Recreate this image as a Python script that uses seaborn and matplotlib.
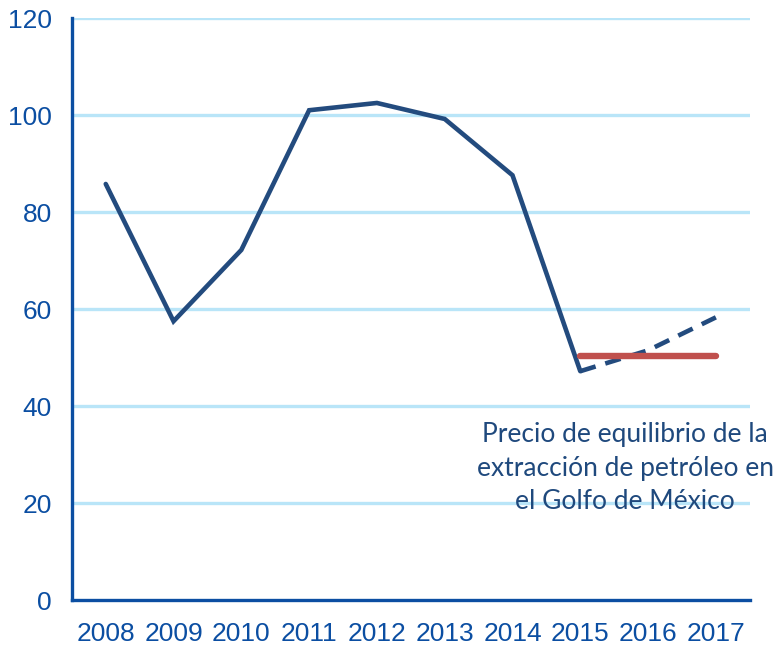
import numpy as np
import pandas as pd
import seaborn as sns
import matplotlib.pyplot as plt

# precio del petroleo (USD/barril), lectura aproximada del grafico
years = ['2008', '2009', '2010', '2011', '2012', '2013', '2014', '2015', '2016', '2017']
price = [85.8, 57.5, 72.2, 101.0, 102.5, 99.2, 87.6, 47.2]
forecast_years = ['2015', '2016', '2017']
forecast = [47.2, 51.5, 58.3]
breakeven_years = ['2015', '2017']
breakeven = [50.4, 50.4]
yticks = [0, 20, 40, 60, 80, 100, 120]
note = 'Precio de equilibrio de la\nextracción de petróleo en\nel Golfo de México'

pos = {y: i for i, y in enumerate(years)}
hist = pd.DataFrame({'x': [pos[y] for y in years[:len(price)]], 'y': price})
fc = pd.DataFrame({'x': [pos[y] for y in forecast_years], 'y': forecast})
be = pd.DataFrame({'x': [pos[y] for y in breakeven_years], 'y': breakeven})

sns.set_style('white')
plt.rcParams['font.family'] = ['Liberation Sans', 'DejaVu Sans']

axis_blue = '#0b4ea2'
line_blue = '#234b7e'
grid_blue = '#b9e5f8'

fig = plt.figure(figsize=(7.81, 6.46), dpi=100)
ax = fig.add_axes([0.092, 0.071, 0.868, 0.901])

for g in yticks[1:]:
    ax.axhline(g, color=grid_blue, lw=2.4, zorder=0)

sns.lineplot(data=hist, x='x', y='y', ax=ax, color=line_blue, lw=3.3,
             solid_joinstyle='miter', zorder=3)
sns.lineplot(data=fc, x='x', y='y', ax=ax, color=line_blue, lw=3.3,
             dashes=False, zorder=3).lines[-1].set_dashes([3.5, 2.2])
sns.lineplot(data=be, x='x', y='y', ax=ax, color='#c0504d', lw=4.6,
             solid_capstyle='round', zorder=4)

ax.text(7.66, 27.2, note, ha='center', va='center', multialignment='center',
        fontsize=19, color='#1f497d', family=['Lato', 'DejaVu Sans'], linespacing=1.42)

ax.set_xlim(-0.5, len(years) - 0.5)
ax.set_ylim(0, 120)
ax.set_xticks(range(len(years)))
ax.set_xticklabels(years)
ax.set_xticks(np.arange(-0.5, len(years), 1.0), minor=True)
ax.set_yticks(yticks)
ax.set_xlabel('')
ax.set_ylabel('')

for s in ['top', 'right']:
    ax.spines[s].set_visible(False)
for s in ['left', 'bottom']:
    ax.spines[s].set_color(axis_blue)
    ax.spines[s].set_linewidth(2.4)

ax.tick_params(axis='x', which='major', length=0, pad=16, labelsize=19, labelcolor=axis_blue)
ax.tick_params(axis='x', which='minor', length=6.5, width=2.4, color=axis_blue, direction='out')
ax.tick_params(axis='y', length=6.5, width=2.4, color=axis_blue, pad=8, labelsize=19,
               labelcolor=axis_blue, direction='out')

fig.savefig('out.png', dpi=100)
